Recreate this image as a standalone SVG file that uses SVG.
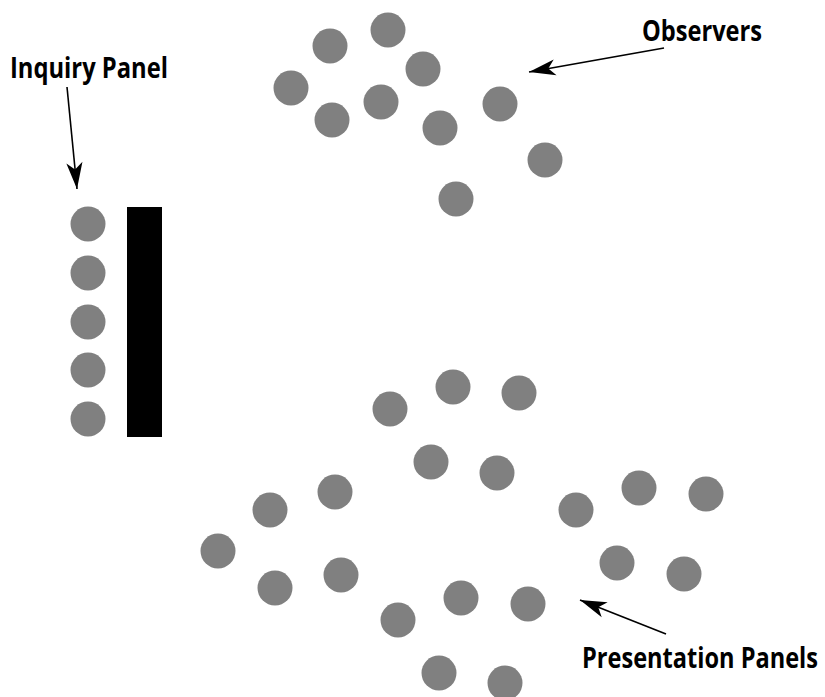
<svg xmlns="http://www.w3.org/2000/svg" width="825" height="697" viewBox="0 0 825 697">
<style>
.p{fill:#808080}
.lbl{font-family:"Open Sans","Liberation Sans",sans-serif;font-weight:bold;font-size:28px;fill:#000}
.c{stroke:#000;stroke-width:1.6;fill:none}
</style>
<defs>
<marker id="ah" markerUnits="userSpaceOnUse" markerWidth="30" markerHeight="20" viewBox="-24 -8 26 16" refX="0" refY="0" orient="auto">
<path d="M0,0 L-23,-7 L-17,0 L-23,7 Z" fill="#000"/>
</marker>
</defs>
<rect width="825" height="697" fill="#fff"/>
<g id="observers">
<circle class="p" cx="330" cy="46" r="17.5"/>
<circle class="p" cx="388" cy="30" r="17.5"/>
<circle class="p" cx="423" cy="69" r="17.5"/>
<circle class="p" cx="291" cy="88" r="17.5"/>
<circle class="p" cx="332" cy="120" r="17.5"/>
<circle class="p" cx="381" cy="102" r="17.5"/>
<circle class="p" cx="440" cy="128" r="17.5"/>
<circle class="p" cx="500" cy="104" r="17.5"/>
<circle class="p" cx="545" cy="160" r="17.5"/>
<circle class="p" cx="456" cy="199" r="17.5"/>
</g>
<g id="inquiry-panel">
<circle class="p" cx="88" cy="224" r="17.5"/>
<circle class="p" cx="88" cy="273" r="17.5"/>
<circle class="p" cx="88" cy="322" r="17.5"/>
<circle class="p" cx="88" cy="370" r="17.5"/>
<circle class="p" cx="88" cy="419" r="17.5"/>
<rect x="127" y="207" width="35" height="230" fill="#000"/>
</g>
<g id="presentation-panels">
<circle class="p" cx="390" cy="409" r="17.5"/>
<circle class="p" cx="453" cy="387" r="17.5"/>
<circle class="p" cx="519" cy="393" r="17.5"/>
<circle class="p" cx="431" cy="462" r="17.5"/>
<circle class="p" cx="497" cy="473" r="17.5"/>
<circle class="p" cx="335" cy="492" r="17.5"/>
<circle class="p" cx="270" cy="510" r="17.5"/>
<circle class="p" cx="218" cy="551" r="17.5"/>
<circle class="p" cx="275" cy="588" r="17.5"/>
<circle class="p" cx="341" cy="575" r="17.5"/>
<circle class="p" cx="398" cy="620" r="17.5"/>
<circle class="p" cx="461" cy="598" r="17.5"/>
<circle class="p" cx="528" cy="604" r="17.5"/>
<circle class="p" cx="439" cy="673" r="17.5"/>
<circle class="p" cx="505" cy="683" r="17.5"/>
<circle class="p" cx="576" cy="510" r="17.5"/>
<circle class="p" cx="639" cy="488" r="17.5"/>
<circle class="p" cx="706" cy="494" r="17.5"/>
<circle class="p" cx="617" cy="563" r="17.5"/>
<circle class="p" cx="684" cy="574" r="17.5"/>
</g>
<g id="labels">
<text class="lbl" x="642" y="41" textLength="120" lengthAdjust="spacingAndGlyphs">Observers</text>
<text class="lbl" x="10" y="78" textLength="158" lengthAdjust="spacingAndGlyphs">Inquiry Panel</text>
<text class="lbl" x="582" y="668" textLength="236" lengthAdjust="spacingAndGlyphs">Presentation Panels</text>
</g>
<g id="connectors">
<line class="c" x1="664" y1="48" x2="529" y2="72" marker-end="url(#ah)"/>
<line class="c" x1="67" y1="87" x2="77" y2="189" marker-end="url(#ah)"/>
<line class="c" x1="666" y1="634" x2="580" y2="600" marker-end="url(#ah)"/>
</g>
</svg>
